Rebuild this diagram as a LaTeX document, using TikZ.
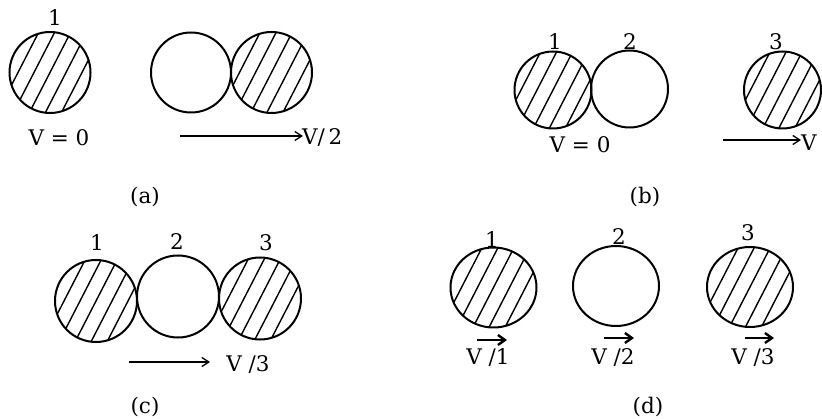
\documentclass[tikz,border=0pt]{standalone}
\usepackage{fontspec}
\setmainfont{DejaVu Serif}
\usetikzlibrary{shapes.geometric,arrows.meta}
\tikzset{
  ball/.style={draw, line width=2pt, inner sep=0pt},
  rball/.style={ball, circle, minimum size=#1},
  oval/.style={ball, ellipse, minimum width=86pt, minimum height=80pt},
  hatched/.style={path picture={
      \foreach \i in {-7,...,7}{
        \draw[line width=1.4pt]
          ([shift={(\i*16pt-36pt,-70pt)}]path picture bounding box.center) --
          ([shift={(\i*16pt+36pt,70pt)}]path picture bounding box.center);}}},
  lbl/.style={font=\fontsize{21.5}{24}\selectfont, inner sep=0pt},
  move/.style={-{Straight Barb[length=7pt,width=9pt,line width=1.3pt]}, line width=1.4pt},
  boldmove/.style={-{Straight Barb[length=7pt,width=10pt,line width=2.4pt]}, line width=2.6pt},
}
\begin{document}
\begin{tikzpicture}[x=1pt,y=-1pt]
\useasboundingbox (0,0) rectangle (822,419);
% ---------- (a)
\node[rball=81pt, hatched] (a1) at (50,72.5) {};
\node[rball=80pt] (a2) at (191,72.5) {};
\node[rball=81pt, hatched] (a3) at (271.5,72.5) {};
\node[lbl] (a1n) at (55,18) {1};
\node[lbl] (av0) at (59,138) {V = 0};
\coordinate (aF) at (180,136);
\coordinate (aT) at (303,136);
\draw[move] (aF) -- (aT);
\node[lbl, anchor=west] (av) at (302,138) {V/\,2};
\node[lbl] (acap) at (145,197) {(a)};
% ---------- (b)
\node[rball=77pt, hatched] (b1) at (553,90) {};
\node[rball=77pt] (b2) at (629.5,89) {};
\node[rball=77pt, hatched] (b3) at (782.5,90) {};
\node[lbl] (b1n) at (555,42) {1};
\node[lbl] (b2n) at (630,42) {2};
\node[lbl] (b3n) at (776,42) {3};
\node[lbl] (bv0) at (580,145) {V = 0};
\coordinate (bF) at (723,140);
\coordinate (bT) at (801,140);
\draw[move] (bF) -- (bT);
\node[lbl, anchor=west] (bv) at (801,143) {V};
\node[lbl] (bcap) at (645,197) {(b)};
% ---------- (c)
\node[rball=82pt, hatched] (c1) at (96,301) {};
\node[rball=82pt] (c2) at (178,296.5) {};
\node[rball=82pt, hatched] (c3) at (260,298.5) {};
\node[lbl] (c1n) at (97,243) {1};
\node[lbl] (c2n) at (177,242) {2};
\node[lbl] (c3n) at (266,243) {3};
\coordinate (cF) at (129,362);
\coordinate (cT) at (210,362);
\draw[move] (cF) -- (cT);
\node[lbl] (cv) at (248,365) {V /3};
\node[lbl] (ccap) at (145,407) {(c)};
% ---------- (d)
\node[oval, hatched] (d1) at (493.5,287.5) {};
\node[oval] (d2) at (616,286) {};
\node[oval, hatched] (d3) at (750,287) {};
\node[lbl] (d1n) at (492,240) {1};
\node[lbl] (d2n) at (619,237) {2};
\node[lbl] (d3n) at (748,233) {3};
\coordinate (d1F) at (477,340);
\coordinate (d1T) at (507,340);
\draw[boldmove] (d1F) -- (d1T);
\coordinate (d2F) at (604,338);
\coordinate (d2T) at (634,338);
\draw[boldmove] (d2F) -- (d2T);
\coordinate (d3F) at (745,338);
\coordinate (d3T) at (774,338);
\draw[boldmove] (d3F) -- (d3T);
\node[lbl] (dv1) at (488,358) {V /1};
\node[lbl] (dv2) at (613,358) {V /2};
\node[lbl] (dv3) at (753,358) {V /3};
\node[lbl] (dcap) at (648,407) {(d)};
\end{tikzpicture}
\end{document}
